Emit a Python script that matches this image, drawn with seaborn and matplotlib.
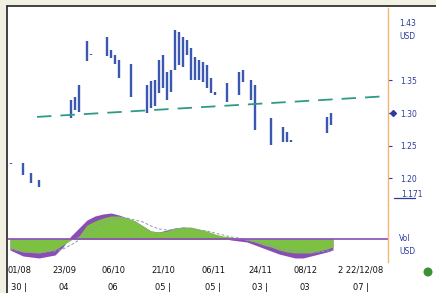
import numpy as np
import pandas as pd
import seaborn as sns
import matplotlib.pyplot as plt
from matplotlib.patches import Rectangle, Ellipse
from matplotlib.lines import Line2D
from matplotlib.transforms import blended_transform_factory

# price bars: trading day, high, low
bar_days = [1, 4, 6, 8, 16, 17, 18, 20, 21, 25, 26, 27, 28, 31, 35, 36, 37, 38, 39,
            40, 41, 42, 43, 44, 45, 46, 47, 48, 49, 50, 51, 52, 55, 58, 59, 61, 62,
            66, 69, 70, 71, 80, 81]
bar_high = [1.223, 1.223, 1.208, 1.197, 1.320, 1.325, 1.343, 1.411, 1.391, 1.417,
            1.397, 1.389, 1.382, 1.375, 1.343, 1.349, 1.351, 1.382, 1.389, 1.363,
            1.366, 1.428, 1.425, 1.417, 1.412, 1.400, 1.386, 1.382, 1.379, 1.374,
            1.354, 1.332, 1.346, 1.363, 1.366, 1.351, 1.343, 1.292, 1.279, 1.271,
            1.259, 1.294, 1.300]
bar_low = [1.221, 1.205, 1.192, 1.186, 1.292, 1.305, 1.302, 1.380, 1.389, 1.388,
           1.385, 1.375, 1.354, 1.325, 1.300, 1.308, 1.311, 1.331, 1.339, 1.320,
           1.332, 1.366, 1.374, 1.371, 1.389, 1.351, 1.351, 1.351, 1.348, 1.339,
           1.331, 1.328, 1.317, 1.328, 1.348, 1.320, 1.274, 1.251, 1.255, 1.255,
           1.255, 1.269, 1.282]

# trend line
trend_days = [7.5, 95.25]
trend_vals = [1.294, 1.326]

# oscillator panel
osc_days = [0.75, 4, 8, 12, 14, 16, 18, 20, 22, 24, 26, 28, 30, 32, 34, 36, 38, 40,
            42, 44, 46, 48, 50, 52, 54, 56, 58, 60, 62, 64, 66, 68, 70, 72, 74, 76,
            78, 80, 81.5]
osc_main = [-0.011, -0.017, -0.019, -0.016, -0.008, 0.003, 0.011, 0.019, 0.023,
            0.025, 0.026, 0.024, 0.021, 0.018, 0.013, 0.008, 0.007, 0.009, 0.011,
            0.012, 0.011, 0.009, 0.007, 0.004, 0.001, -0.001, -0.002, -0.003,
            -0.006, -0.009, -0.012, -0.015, -0.017, -0.019, -0.019, -0.017, -0.015,
            -0.013, -0.011]
osc_fill = [-0.009, -0.013, -0.014, -0.011, -0.006, -0.001, 0.003, 0.014, 0.018,
            0.021, 0.023, 0.023, 0.021, 0.018, 0.013, 0.008, 0.007, 0.008, 0.011,
            0.012, 0.012, 0.010, 0.008, 0.005, 0.003, 0.002, 0.000, -0.001, -0.003,
            -0.006, -0.008, -0.011, -0.013, -0.014, -0.014, -0.014, -0.012, -0.010,
            -0.008]
osc_signal = [-0.010, -0.013, -0.014, -0.012, -0.010, -0.006, -0.001, 0.006, 0.011,
              0.016, 0.019, 0.021, 0.021, 0.019, 0.017, 0.013, 0.010, 0.009, 0.009,
              0.010, 0.010, 0.009, 0.008, 0.006, 0.004, 0.002, 0.001, -0.001,
              -0.003, -0.005, -0.007, -0.009, -0.011, -0.012, -0.013, -0.013,
              -0.013, -0.012, -0.011]

price_ticks = [1.35, 1.30, 1.25, 1.20]
price_tick_labels = ["1.35", "1.30", "1.25", "1.20"]
top_label = "1.43\nUSD"
last_label = "1.171"
osc_label = "Vol\nUSD"

date_pos = [3, 14.25, 26.5, 39, 51.5, 63.25, 74.5, 88.5]
date_row1 = ["01/08", "23/09", "06/10", "21/10", "06/11", "24/11", "08/12", "2 22/12/08"]
date_row2 = ["30 |", "04", "06", "05 |", "05 |", "03 |", "03", "07 |"]

BLUE = "#3a58b0"
NAVY = "#2c3c9c"
TEAL = "#2f9a8a"
GREEN = "#7cc142"
PURPLE = "#8b4db5"
ORANGE = "#f2b47a"

sns.set_theme(style="white")
plt.rcParams['font.family'] = ['DejaVu Sans']

W, H = 436, 293
fig = plt.figure(figsize=(W / 100, H / 100), dpi=100, facecolor="#f2efe3")
fig.patches.append(Rectangle((7 / W, 0), 1 - 7 / W, 1 - 6 / H, transform=fig.transFigure,
                             facecolor="white", edgecolor="none", zorder=-5))
fig.lines.append(Line2D([7 / W, 1], [1 - 6 / H, 1 - 6 / H], transform=fig.transFigure,
                        color="#222222", lw=1.2))
fig.lines.append(Line2D([7 / W, 7 / W], [0, 1 - 6 / H], transform=fig.transFigure,
                        color="#222222", lw=1.2))

ax = fig.add_axes([8 / W, 1 - 205 / H, 380 / W, 197 / H])
ax2 = fig.add_axes([8 / W, 1 - 262 / H, 380 / W, 57 / H], sharex=ax)
for a in (ax, ax2):
    a.set_facecolor("none")
    for s in ("top", "left", "bottom"):
        a.spines[s].set_visible(False)
    a.spines["right"].set_color(ORANGE)
    a.spines["right"].set_linewidth(1.0)

bars = pd.DataFrame({"day": bar_days, "high": bar_high, "low": bar_low})
ax.vlines(bars["day"], bars["low"], bars["high"], color=BLUE, lw=1.7)
sns.lineplot(x=trend_days, y=trend_vals, ax=ax, color=TEAL, lw=1.3,
             dashes=False, linestyle=(0, (8, 5)))
ax.set_xlim(0.25, 95.25)
ax.set_ylim(1.1585, 1.4615)
ax.yaxis.tick_right()
ax.set_yticks(price_ticks, price_tick_labels)
ax.tick_params(axis="y", right=True, length=3, width=0.8, colors=NAVY,
               labelsize=5.5, pad=6, direction="out")
ax.tick_params(axis="x", bottom=False, labelbottom=False)
ax.set_xlabel("")
ax.set_ylabel("")

tr = blended_transform_factory(ax.transAxes, ax.transData)
ax.plot([1.012], [1.30], marker="D", ms=3, color=NAVY, transform=tr, clip_on=False)
ax.text(1.03, 1.428, top_label, transform=tr, color=NAVY, fontsize=5.5,
        va="center", ha="left", linespacing=1.6)
ax.text(1.035, 1.174, last_label, transform=tr, color=NAVY, fontsize=5.5,
        va="center", ha="left")
ax.plot([1.015, 1.07], [1.169, 1.169], color=NAVY, lw=0.9, transform=tr, clip_on=False)

osc = pd.DataFrame({"day": osc_days, "main": osc_main, "fill": osc_fill,
                    "signal": osc_signal})
ax2.fill_between(osc["day"], 0, osc["main"], color=PURPLE, lw=0)
ax2.fill_between(osc["day"], 0, osc["fill"], color=GREEN, lw=0)
sns.lineplot(data=osc, x="day", y="signal", ax=ax2, color="#8a9ab8", lw=0.7,
             linestyle=(0, (3, 2)))
ax2.axhline(0, color=PURPLE, lw=1.2)
ax2.set_ylim(-0.023, 0.034)
ax2.set_yticks([])
ax2.set_xticks([])
ax2.set_xlabel("")
ax2.set_ylabel("")
ax2.text(1.03, 0.30, osc_label, transform=ax2.transAxes, color=NAVY, fontsize=5.5,
         va="center", ha="left", linespacing=1.6)

trx = blended_transform_factory(ax2.transData, fig.transFigure)
for d, r1, r2 in zip(date_pos, date_row1, date_row2):
    ax2.text(d, 1 - 270 / H, r1, transform=trx, fontsize=6, color="#111111",
             ha="center", va="center")
    ax2.text(d, 1 - 288 / H, r2, transform=trx, fontsize=6, color="#111111",
             ha="center", va="center")

fig.add_artist(Ellipse((428 / W, 1 - 272 / H), 9 / W, 9 / H, transform=fig.transFigure,
                       facecolor="#3f8f35", edgecolor="none", zorder=3))

fig.savefig("out.png", dpi=100, facecolor=fig.get_facecolor())
